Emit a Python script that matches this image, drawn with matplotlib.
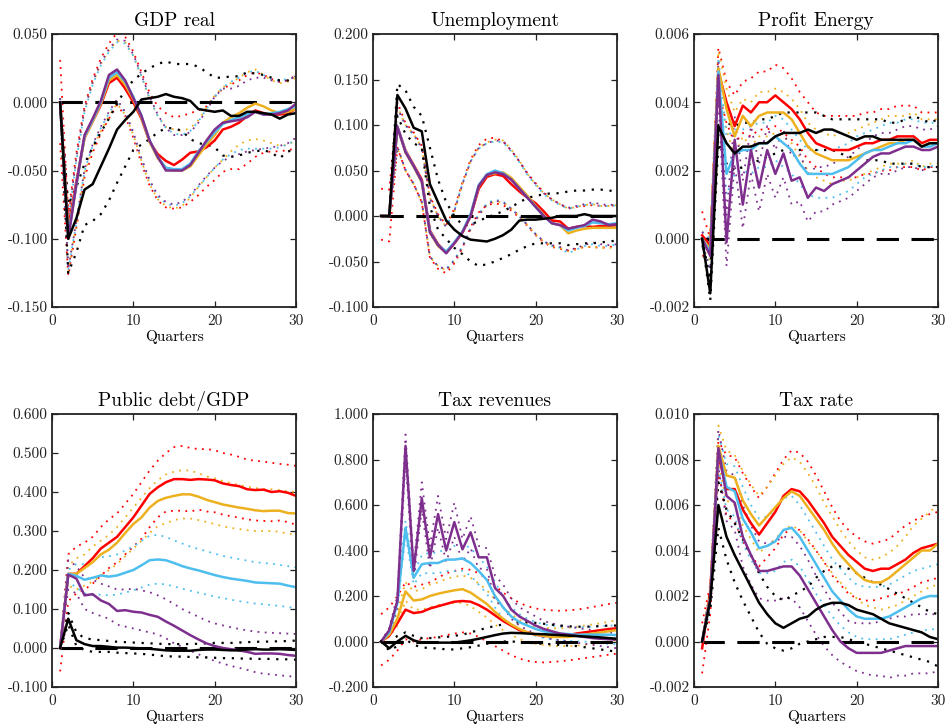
import matplotlib
matplotlib.use("Agg")
import matplotlib.pyplot as plt
from matplotlib.ticker import FormatStrFormatter, MultipleLocator

plt.rcParams.update({
    "font.family": "serif",
    "font.serif": ["cmr10"],
    "mathtext.fontset": "cm",
    "axes.unicode_minus": False,
    "axes.linewidth": 1.3,
})

quarters = list(range(1, 31))

# ---------------- GDP real ----------------
gdp_k = [0, -0.100, -0.085, -0.064, -0.060, -0.047, -0.034, -0.020, -0.013, -0.007, 0.002, 0.003, 0.004, 0.006, 0.004, 0.003, 0.001, -0.005, -0.006, -0.007, -0.006, -0.010, -0.010, -0.007, -0.007, -0.008, -0.009, -0.012, -0.009, -0.008]
gdp_k_hi = [0, -0.075, -0.062, -0.045, -0.033, -0.022, -0.012, -0.001, 0.009, 0.016, 0.021, 0.025, 0.028, 0.030, 0.028, 0.028, 0.028, 0.026, 0.022, 0.018, 0.018, 0.019, 0.019, 0.022, 0.021, 0.020, 0.018, 0.016, 0.016, 0.019]
gdp_k_lo = [0, -0.125, -0.110, -0.090, -0.087, -0.082, -0.072, -0.059, -0.047, -0.035, -0.031, -0.027, -0.022, -0.019, -0.019, -0.021, -0.027, -0.030, -0.031, -0.033, -0.039, -0.040, -0.039, -0.037, -0.036, -0.035, -0.037, -0.041, -0.036, -0.035]
gdp_r = [0, -0.092, -0.058, -0.026, -0.014, -0.002, 0.014, 0.018, 0.010, 0.000, -0.012, -0.029, -0.038, -0.043, -0.046, -0.042, -0.037, -0.036, -0.033, -0.028, -0.020, -0.018, -0.015, -0.010, -0.006, -0.008, -0.009, -0.009, -0.008, -0.005]
gdp_r_hi = [0.031, -0.082, -0.037, -0.003, 0.017, 0.032, 0.043, 0.051, 0.048, 0.037, 0.022, 0.007, -0.003, -0.008, -0.011, -0.010, -0.008, -0.006, -0.003, 0.004, 0.010, 0.013, 0.016, 0.020, 0.022, 0.020, 0.017, 0.015, 0.016, 0.020]
gdp_r_lo = [-0.030, -0.127, -0.092, -0.055, -0.037, -0.023, -0.012, -0.002, -0.010, -0.026, -0.045, -0.061, -0.072, -0.077, -0.078, -0.077, -0.073, -0.068, -0.062, -0.057, -0.051, -0.049, -0.049, -0.045, -0.040, -0.037, -0.036, -0.036, -0.035, -0.034]
gdp_o = [0, -0.097, -0.060, -0.026, -0.014, -0.001, 0.016, 0.020, 0.013, 0.002, -0.011, -0.029, -0.041, -0.048, -0.050, -0.050, -0.047, -0.039, -0.031, -0.024, -0.015, -0.011, -0.008, -0.004, -0.001, -0.003, -0.006, -0.008, -0.007, -0.005]
gdp_o_hi = [0.003, -0.086, -0.041, -0.006, 0.014, 0.028, 0.038, 0.045, 0.044, 0.034, 0.019, 0.002, -0.010, -0.018, -0.020, -0.021, -0.019, -0.013, -0.004, 0.005, 0.011, 0.014, 0.018, 0.022, 0.024, 0.020, 0.016, 0.014, 0.015, 0.018]
gdp_o_lo = [-0.002, -0.124, -0.089, -0.052, -0.034, -0.021, -0.010, -0.001, -0.009, -0.024, -0.043, -0.060, -0.071, -0.076, -0.078, -0.076, -0.070, -0.062, -0.055, -0.048, -0.042, -0.036, -0.031, -0.028, -0.027, -0.028, -0.030, -0.032, -0.031, -0.028]
gdp_b = [0, -0.098, -0.060, -0.025, -0.013, 0.000, 0.018, 0.022, 0.015, 0.004, -0.010, -0.028, -0.040, -0.048, -0.049, -0.049, -0.045, -0.036, -0.029, -0.022, -0.016, -0.013, -0.011, -0.009, -0.007, -0.009, -0.008, -0.007, -0.005, -0.003]
gdp_b_hi = [0.003, -0.087, -0.042, -0.007, 0.013, 0.027, 0.037, 0.044, 0.043, 0.034, 0.019, 0.003, -0.010, -0.019, -0.023, -0.024, -0.021, -0.014, -0.005, 0.004, 0.011, 0.015, 0.018, 0.022, 0.023, 0.020, 0.017, 0.016, 0.017, 0.019]
gdp_b_lo = [-0.002, -0.123, -0.088, -0.050, -0.032, -0.019, -0.008, 0.001, -0.008, -0.023, -0.042, -0.058, -0.069, -0.074, -0.076, -0.074, -0.069, -0.062, -0.055, -0.048, -0.042, -0.038, -0.035, -0.034, -0.034, -0.034, -0.034, -0.033, -0.031, -0.027]
gdp_p = [0, -0.100, -0.060, -0.024, -0.012, 0.001, 0.020, 0.024, 0.016, 0.003, -0.010, -0.028, -0.040, -0.050, -0.050, -0.050, -0.046, -0.037, -0.028, -0.020, -0.015, -0.014, -0.013, -0.011, -0.007, -0.009, -0.009, -0.008, -0.006, -0.001]
gdp_p_hi = [0.003, -0.086, -0.040, -0.005, 0.015, 0.029, 0.039, 0.046, 0.045, 0.035, 0.020, 0.004, -0.009, -0.019, -0.024, -0.024, -0.022, -0.015, -0.006, 0.004, 0.010, 0.010, 0.012, 0.016, 0.018, 0.018, 0.016, 0.015, 0.016, 0.019]
gdp_p_lo = [-0.002, -0.122, -0.087, -0.049, -0.031, -0.018, -0.007, 0.002, -0.007, -0.022, -0.041, -0.057, -0.068, -0.073, -0.075, -0.073, -0.068, -0.061, -0.054, -0.048, -0.043, -0.040, -0.038, -0.036, -0.035, -0.034, -0.033, -0.032, -0.030, -0.026]

# ---------------- Unemployment ----------------
un_k = [0, 0, 0.133, 0.118, 0.097, 0.093, 0.035, 0.015, -0.005, -0.015, -0.022, -0.026, -0.027, -0.028, -0.025, -0.021, -0.015, -0.005, -0.004, -0.004, -0.003, -0.002, 0.000, 0.000, 0.000, 0.002, 0.000, 0.000, 0.000, 0.000]
un_k_hi = [0, 0, 0.145, 0.138, 0.120, 0.110, 0.075, 0.040, 0.015, 0.000, -0.010, -0.010, -0.005, -0.002, 0.002, 0.005, 0.010, 0.015, 0.020, 0.022, 0.024, 0.025, 0.025, 0.027, 0.028, 0.028, 0.029, 0.029, 0.028, 0.027]
un_k_lo = [0, 0, 0.110, 0.090, 0.080, 0.075, 0.010, -0.015, -0.025, -0.035, -0.042, -0.050, -0.055, -0.053, -0.050, -0.046, -0.042, -0.037, -0.033, -0.030, -0.030, -0.030, -0.030, -0.032, -0.031, -0.030, -0.030, -0.029, -0.028, -0.027]
un_r = [0, 0, 0.098, 0.072, 0.056, 0.040, -0.016, -0.031, -0.040, -0.030, -0.018, 0.000, 0.030, 0.043, 0.046, 0.044, 0.035, 0.027, 0.020, 0.014, 0.005, -0.005, -0.006, -0.014, -0.012, -0.011, -0.012, -0.011, -0.011, -0.010]
un_r_hi = [0.030, 0.029, 0.125, 0.102, 0.092, 0.077, 0.022, 0.002, -0.010, 0.008, 0.037, 0.062, 0.078, 0.085, 0.086, 0.082, 0.072, 0.060, 0.047, 0.036, 0.026, 0.018, 0.013, 0.008, 0.010, 0.011, 0.012, 0.011, 0.011, 0.012]
un_r_lo = [-0.026, -0.028, 0.075, 0.050, 0.035, 0.015, -0.046, -0.058, -0.063, -0.052, -0.035, -0.012, 0.004, 0.012, 0.014, 0.012, 0.006, -0.002, -0.011, -0.021, -0.029, -0.034, -0.036, -0.038, -0.036, -0.034, -0.034, -0.035, -0.034, -0.033]
un_o = [0, 0, 0.097, 0.070, 0.054, 0.037, -0.018, -0.033, -0.040, -0.030, -0.018, 0.001, 0.033, 0.045, 0.047, 0.048, 0.042, 0.032, 0.022, 0.011, 0.001, -0.008, -0.010, -0.019, -0.016, -0.014, -0.013, -0.013, -0.013, -0.013]
un_o_hi = [0, 0, 0.120, 0.100, 0.090, 0.075, 0.020, 0.000, -0.012, 0.005, 0.035, 0.060, 0.075, 0.081, 0.084, 0.083, 0.073, 0.061, 0.046, 0.035, 0.025, 0.018, 0.013, 0.008, 0.010, 0.012, 0.013, 0.011, 0.011, 0.012]
un_o_lo = [0, 0, 0.075, 0.050, 0.035, 0.015, -0.045, -0.055, -0.060, -0.050, -0.035, -0.015, 0.000, 0.012, 0.016, 0.015, 0.008, 0.000, -0.010, -0.020, -0.028, -0.033, -0.035, -0.039, -0.037, -0.034, -0.034, -0.035, -0.035, -0.035]
un_b = [0, 0, 0.098, 0.071, 0.055, 0.038, -0.017, -0.032, -0.039, -0.029, -0.017, 0.002, 0.034, 0.046, 0.050, 0.047, 0.040, 0.030, 0.020, 0.010, 0.000, -0.008, -0.010, -0.016, -0.013, -0.011, -0.007, -0.008, -0.009, -0.008]
un_b_hi = [0, 0, 0.119, 0.099, 0.089, 0.074, 0.019, -0.001, -0.011, 0.006, 0.036, 0.060, 0.074, 0.080, 0.082, 0.081, 0.071, 0.059, 0.045, 0.034, 0.024, 0.017, 0.012, 0.008, 0.010, 0.012, 0.013, 0.011, 0.011, 0.012]
un_b_lo = [0, 0, 0.076, 0.051, 0.036, 0.016, -0.044, -0.056, -0.058, -0.048, -0.033, -0.013, 0.002, 0.014, 0.018, 0.016, 0.008, -0.001, -0.010, -0.020, -0.028, -0.033, -0.035, -0.041, -0.037, -0.033, -0.031, -0.033, -0.033, -0.031]
un_p = [0, 0, 0.098, 0.070, 0.055, 0.038, -0.018, -0.032, -0.041, -0.030, -0.018, 0.000, 0.033, 0.045, 0.048, 0.046, 0.040, 0.030, 0.020, 0.010, 0.000, -0.008, -0.010, -0.014, -0.012, -0.010, -0.004, -0.006, -0.010, -0.009]
un_p_hi = [0, 0, 0.119, 0.100, 0.090, 0.075, 0.020, 0.000, -0.012, 0.005, 0.035, 0.060, 0.075, 0.080, 0.083, 0.082, 0.072, 0.060, 0.046, 0.035, 0.025, 0.018, 0.013, 0.009, 0.011, 0.013, 0.015, 0.013, 0.012, 0.013]
un_p_lo = [0, 0, 0.076, 0.050, 0.035, 0.015, -0.045, -0.055, -0.059, -0.049, -0.034, -0.014, 0.001, 0.013, 0.017, 0.015, 0.008, 0.000, -0.010, -0.020, -0.028, -0.032, -0.034, -0.038, -0.035, -0.032, -0.029, -0.031, -0.032, -0.031]

# ---------------- Profit Energy ----------------
pe_k = [0, -0.0016, 0.0033, 0.0028, 0.0025, 0.0027, 0.0027, 0.0028, 0.0028, 0.0030, 0.0031, 0.0031, 0.0031, 0.0032, 0.0031, 0.0032, 0.0032, 0.0031, 0.0030, 0.0029, 0.0030, 0.0030, 0.0029, 0.0029, 0.0029, 0.0029, 0.0029, 0.0027, 0.0028, 0.0028]
pe_k_hi = [0, -0.0012, 0.0035, 0.0034, 0.0033, 0.0034, 0.0034, 0.0035, 0.0035, 0.0036, 0.0037, 0.0037, 0.0037, 0.0037, 0.0037, 0.0036, 0.0035, 0.0035, 0.0035, 0.0035, 0.0035, 0.0035, 0.0035, 0.0034, 0.0034, 0.0035, 0.0036, 0.0035, 0.0034, 0.0035]
pe_k_lo = [0, -0.0018, 0.0028, 0.0022, 0.0020, 0.0021, 0.0022, 0.0023, 0.0024, 0.0025, 0.0026, 0.0026, 0.0026, 0.0027, 0.0026, 0.0026, 0.0026, 0.0025, 0.0024, 0.0024, 0.0023, 0.0023, 0.0023, 0.0022, 0.0022, 0.0022, 0.0022, 0.0021, 0.0021, 0.0021]
pe_r = [0.0001, -0.0002, 0.0049, 0.0040, 0.0033, 0.0039, 0.0037, 0.0040, 0.0040, 0.0042, 0.0040, 0.0038, 0.0035, 0.0031, 0.0028, 0.0027, 0.0026, 0.0026, 0.0026, 0.0027, 0.0028, 0.0028, 0.0029, 0.0029, 0.0030, 0.0030, 0.0030, 0.0028, 0.0029, 0.0029]
pe_r_hi = [0.0008, 0.0000, 0.0056, 0.0046, 0.0042, 0.0046, 0.0047, 0.0049, 0.0049, 0.0051, 0.0050, 0.0047, 0.0043, 0.0040, 0.0037, 0.0036, 0.0036, 0.0036, 0.0036, 0.0036, 0.0037, 0.0037, 0.0038, 0.0038, 0.0039, 0.0039, 0.0039, 0.0037, 0.0037, 0.0037]
pe_r_lo = [-0.0005, -0.0005, 0.0043, 0.0034, 0.0028, 0.0031, 0.0030, 0.0032, 0.0032, 0.0033, 0.0031, 0.0029, 0.0027, 0.0023, 0.0021, 0.0019, 0.0018, 0.0018, 0.0018, 0.0018, 0.0019, 0.0019, 0.0020, 0.0020, 0.0021, 0.0021, 0.0021, 0.0020, 0.0021, 0.0021]
pe_o = [0, -0.0003, 0.0050, 0.0038, 0.0030, 0.0036, 0.0033, 0.0036, 0.0037, 0.0037, 0.0037, 0.0035, 0.0031, 0.0027, 0.0025, 0.0024, 0.0023, 0.0023, 0.0023, 0.0024, 0.0025, 0.0026, 0.0027, 0.0028, 0.0028, 0.0029, 0.0029, 0.0027, 0.0028, 0.0028]
pe_o_hi = [0.0002, 0.0001, 0.0055, 0.0044, 0.0037, 0.0041, 0.0040, 0.0043, 0.0043, 0.0044, 0.0043, 0.0041, 0.0038, 0.0034, 0.0032, 0.0031, 0.0030, 0.0031, 0.0031, 0.0032, 0.0033, 0.0034, 0.0035, 0.0036, 0.0036, 0.0036, 0.0037, 0.0035, 0.0035, 0.0035]
pe_o_lo = [-0.0002, -0.0007, 0.0045, 0.0032, 0.0024, 0.0030, 0.0027, 0.0030, 0.0030, 0.0031, 0.0030, 0.0028, 0.0024, 0.0020, 0.0018, 0.0017, 0.0016, 0.0017, 0.0017, 0.0018, 0.0019, 0.0020, 0.0021, 0.0022, 0.0022, 0.0022, 0.0023, 0.0021, 0.0022, 0.0022]
pe_b = [0, -0.0004, 0.0049, 0.0019, 0.0025, 0.0026, 0.0026, 0.0028, 0.0028, 0.0030, 0.0028, 0.0026, 0.0022, 0.0019, 0.0019, 0.0019, 0.0019, 0.0020, 0.0021, 0.0023, 0.0025, 0.0026, 0.0026, 0.0027, 0.0028, 0.0028, 0.0029, 0.0027, 0.0027, 0.0028]
pe_b_hi = [0.0002, 0.0000, 0.0053, 0.0030, 0.0032, 0.0032, 0.0033, 0.0034, 0.0034, 0.0036, 0.0035, 0.0032, 0.0029, 0.0026, 0.0026, 0.0026, 0.0026, 0.0027, 0.0028, 0.0030, 0.0031, 0.0032, 0.0033, 0.0034, 0.0034, 0.0035, 0.0035, 0.0034, 0.0034, 0.0034]
pe_b_lo = [-0.0002, -0.0008, 0.0044, 0.0013, 0.0019, 0.0020, 0.0019, 0.0021, 0.0021, 0.0023, 0.0021, 0.0019, 0.0016, 0.0013, 0.0012, 0.0012, 0.0012, 0.0013, 0.0014, 0.0016, 0.0018, 0.0019, 0.0020, 0.0021, 0.0021, 0.0022, 0.0022, 0.0021, 0.0021, 0.0022]
pe_p = [0, -0.0005, 0.0048, -0.0001, 0.0029, 0.0010, 0.0026, 0.0015, 0.0026, 0.0019, 0.0025, 0.0017, 0.0018, 0.0012, 0.0015, 0.0014, 0.0016, 0.0017, 0.0018, 0.0020, 0.0022, 0.0024, 0.0025, 0.0025, 0.0026, 0.0027, 0.0027, 0.0026, 0.0026, 0.0027]
pe_p_hi = [0.0002, -0.0001, 0.0052, 0.0007, 0.0036, 0.0017, 0.0033, 0.0022, 0.0033, 0.0026, 0.0032, 0.0024, 0.0025, 0.0019, 0.0021, 0.0021, 0.0022, 0.0023, 0.0024, 0.0026, 0.0028, 0.0030, 0.0031, 0.0031, 0.0032, 0.0033, 0.0033, 0.0032, 0.0032, 0.0033]
pe_p_lo = [-0.0002, -0.0009, 0.0042, -0.0008, 0.0022, 0.0003, 0.0019, 0.0008, 0.0019, 0.0012, 0.0018, 0.0010, 0.0011, 0.0005, 0.0008, 0.0008, 0.0010, 0.0011, 0.0012, 0.0014, 0.0016, 0.0018, 0.0019, 0.0019, 0.0020, 0.0021, 0.0021, 0.0020, 0.0021, 0.0021]

# ---------------- Public debt/GDP ----------------
pd_k = [0, 0.075, 0.020, 0.010, 0.005, 0.005, 0.003, 0.001, 0.001, 0.000, -0.001, -0.002, -0.004, -0.006, -0.007, -0.007, -0.007, -0.005, -0.004, -0.004, -0.005, -0.006, -0.006, -0.004, -0.003, -0.004, -0.004, -0.003, -0.004, -0.005]
pd_k_hi = [0, 0.090, 0.040, 0.025, 0.022, 0.020, 0.018, 0.016, 0.015, 0.014, 0.013, 0.012, 0.011, 0.010, 0.010, 0.010, 0.010, 0.011, 0.012, 0.013, 0.013, 0.013, 0.014, 0.015, 0.016, 0.016, 0.017, 0.017, 0.018, 0.019]
pd_k_lo = [0, 0.060, 0.005, -0.005, -0.010, -0.010, -0.010, -0.012, -0.013, -0.014, -0.015, -0.017, -0.019, -0.021, -0.022, -0.022, -0.023, -0.024, -0.024, -0.025, -0.026, -0.026, -0.027, -0.027, -0.028, -0.028, -0.028, -0.029, -0.029, -0.030]
pd_r = [0, 0.190, 0.190, 0.210, 0.230, 0.255, 0.270, 0.285, 0.310, 0.335, 0.365, 0.395, 0.412, 0.425, 0.433, 0.433, 0.431, 0.433, 0.432, 0.430, 0.422, 0.418, 0.415, 0.407, 0.405, 0.406, 0.400, 0.402, 0.398, 0.390]
pd_r_hi = [0, 0.240, 0.260, 0.270, 0.285, 0.310, 0.330, 0.345, 0.370, 0.395, 0.425, 0.455, 0.480, 0.500, 0.515, 0.518, 0.513, 0.510, 0.510, 0.507, 0.500, 0.496, 0.490, 0.483, 0.480, 0.478, 0.475, 0.472, 0.470, 0.467]
pd_r_lo = [-0.060, 0.120, 0.140, 0.150, 0.165, 0.185, 0.205, 0.220, 0.240, 0.260, 0.280, 0.310, 0.335, 0.350, 0.352, 0.352, 0.350, 0.355, 0.350, 0.348, 0.342, 0.338, 0.334, 0.330, 0.327, 0.326, 0.325, 0.327, 0.323, 0.316]
pd_o = [0, 0.190, 0.190, 0.205, 0.220, 0.240, 0.252, 0.270, 0.295, 0.318, 0.335, 0.360, 0.377, 0.385, 0.390, 0.394, 0.394, 0.388, 0.380, 0.374, 0.368, 0.364, 0.360, 0.357, 0.353, 0.351, 0.352, 0.352, 0.346, 0.345]
pd_o_hi = [0, 0.210, 0.230, 0.240, 0.260, 0.275, 0.290, 0.310, 0.335, 0.360, 0.385, 0.410, 0.430, 0.445, 0.452, 0.456, 0.455, 0.448, 0.440, 0.435, 0.428, 0.423, 0.418, 0.414, 0.410, 0.408, 0.407, 0.405, 0.402, 0.400]
pd_o_lo = [0, 0.160, 0.150, 0.160, 0.170, 0.185, 0.200, 0.215, 0.235, 0.255, 0.275, 0.295, 0.312, 0.320, 0.328, 0.332, 0.332, 0.328, 0.323, 0.318, 0.312, 0.308, 0.305, 0.302, 0.300, 0.300, 0.300, 0.298, 0.293, 0.290]
pd_b = [0, 0.190, 0.185, 0.175, 0.180, 0.186, 0.183, 0.186, 0.193, 0.200, 0.212, 0.225, 0.227, 0.225, 0.218, 0.210, 0.204, 0.199, 0.193, 0.187, 0.182, 0.178, 0.175, 0.172, 0.168, 0.167, 0.166, 0.165, 0.160, 0.156]
pd_b_hi = [0, 0.200, 0.215, 0.215, 0.225, 0.233, 0.235, 0.240, 0.250, 0.260, 0.275, 0.288, 0.290, 0.285, 0.276, 0.268, 0.260, 0.254, 0.248, 0.242, 0.236, 0.232, 0.228, 0.224, 0.220, 0.218, 0.216, 0.213, 0.210, 0.207]
pd_b_lo = [0, 0.170, 0.155, 0.140, 0.136, 0.137, 0.135, 0.137, 0.142, 0.148, 0.155, 0.163, 0.165, 0.163, 0.158, 0.152, 0.147, 0.142, 0.137, 0.132, 0.128, 0.124, 0.120, 0.117, 0.114, 0.112, 0.110, 0.108, 0.105, 0.102]
pd_p = [0, 0.188, 0.178, 0.135, 0.138, 0.122, 0.113, 0.095, 0.097, 0.093, 0.091, 0.085, 0.080, 0.068, 0.057, 0.045, 0.033, 0.022, 0.012, 0.005, 0.000, -0.003, -0.006, -0.010, -0.015, -0.014, -0.014, -0.015, -0.018, -0.020]
pd_p_hi = [0, 0.225, 0.210, 0.180, 0.175, 0.165, 0.158, 0.150, 0.150, 0.152, 0.148, 0.143, 0.135, 0.125, 0.113, 0.100, 0.090, 0.080, 0.070, 0.063, 0.058, 0.053, 0.049, 0.045, 0.042, 0.040, 0.039, 0.038, 0.037, 0.036]
pd_p_lo = [0, 0.150, 0.140, 0.100, 0.090, 0.082, 0.075, 0.060, 0.055, 0.050, 0.045, 0.040, 0.035, 0.025, 0.012, 0.003, -0.007, -0.016, -0.025, -0.033, -0.040, -0.046, -0.051, -0.056, -0.062, -0.066, -0.068, -0.070, -0.072, -0.074]

# ---------------- Tax revenues ----------------
tr_k = [0, -0.030, 0.000, 0.025, 0.005, -0.005, -0.005, -0.005, -0.005, -0.005, 0.000, 0.005, 0.012, 0.020, 0.028, 0.035, 0.038, 0.037, 0.035, 0.033, 0.032, 0.030, 0.028, 0.026, 0.024, 0.022, 0.020, 0.018, 0.015, 0.012]
tr_k_hi = [0, -0.010, 0.025, 0.040, 0.025, 0.015, 0.015, 0.018, 0.020, 0.025, 0.030, 0.040, 0.050, 0.060, 0.068, 0.075, 0.082, 0.085, 0.085, 0.082, 0.078, 0.074, 0.070, 0.067, 0.065, 0.065, 0.066, 0.068, 0.070, 0.070]
tr_k_lo = [0, -0.040, -0.020, 0.010, -0.015, -0.025, -0.030, -0.030, -0.035, -0.035, -0.030, -0.025, -0.018, -0.010, -0.005, 0.000, 0.000, -0.002, -0.005, -0.008, -0.010, -0.012, -0.015, -0.018, -0.020, -0.025, -0.030, -0.035, -0.040, -0.045]
tr_r = [0, 0.025, 0.080, 0.140, 0.125, 0.130, 0.145, 0.155, 0.165, 0.175, 0.178, 0.175, 0.160, 0.140, 0.115, 0.090, 0.070, 0.050, 0.040, 0.030, 0.025, 0.023, 0.025, 0.028, 0.035, 0.040, 0.045, 0.050, 0.055, 0.058]
tr_r_hi = [0.120, 0.150, 0.200, 0.260, 0.240, 0.250, 0.260, 0.280, 0.300, 0.310, 0.320, 0.315, 0.300, 0.275, 0.245, 0.215, 0.190, 0.170, 0.155, 0.145, 0.140, 0.137, 0.135, 0.137, 0.140, 0.145, 0.152, 0.158, 0.165, 0.170]
tr_r_lo = [-0.105, -0.080, -0.040, 0.010, 0.000, 0.010, 0.015, 0.020, 0.028, 0.035, 0.040, 0.035, 0.020, 0.000, -0.020, -0.040, -0.060, -0.075, -0.085, -0.090, -0.092, -0.090, -0.087, -0.083, -0.078, -0.073, -0.068, -0.063, -0.058, -0.053]
tr_o = [0, 0.030, 0.100, 0.220, 0.180, 0.185, 0.200, 0.210, 0.218, 0.225, 0.230, 0.215, 0.190, 0.165, 0.130, 0.100, 0.075, 0.055, 0.040, 0.030, 0.025, 0.020, 0.020, 0.020, 0.025, 0.030, 0.035, 0.040, 0.045, 0.050]
tr_o_hi = [0, 0.040, 0.130, 0.260, 0.220, 0.230, 0.250, 0.260, 0.275, 0.285, 0.290, 0.280, 0.255, 0.225, 0.185, 0.150, 0.120, 0.095, 0.075, 0.065, 0.060, 0.058, 0.058, 0.060, 0.065, 0.070, 0.075, 0.080, 0.087, 0.093]
tr_o_lo = [0, 0.020, 0.070, 0.180, 0.140, 0.140, 0.150, 0.160, 0.165, 0.170, 0.170, 0.155, 0.130, 0.105, 0.075, 0.050, 0.030, 0.010, 0.000, -0.010, -0.015, -0.020, -0.020, -0.020, -0.018, -0.015, -0.010, -0.005, 0.000, 0.005]
tr_b = [0, 0.040, 0.170, 0.500, 0.280, 0.340, 0.345, 0.345, 0.360, 0.360, 0.365, 0.345, 0.310, 0.270, 0.200, 0.150, 0.110, 0.085, 0.070, 0.055, 0.045, 0.040, 0.035, 0.033, 0.030, 0.030, 0.030, 0.030, 0.030, 0.028]
tr_b_hi = [0, 0.050, 0.190, 0.530, 0.300, 0.380, 0.390, 0.390, 0.410, 0.420, 0.430, 0.410, 0.370, 0.330, 0.260, 0.200, 0.150, 0.120, 0.100, 0.085, 0.075, 0.070, 0.065, 0.065, 0.063, 0.063, 0.065, 0.067, 0.070, 0.070]
tr_b_lo = [0, 0.030, 0.150, 0.470, 0.250, 0.300, 0.300, 0.300, 0.310, 0.310, 0.310, 0.290, 0.250, 0.210, 0.150, 0.100, 0.070, 0.050, 0.040, 0.025, 0.015, 0.010, 0.005, 0.003, 0.000, 0.000, -0.005, -0.008, -0.010, -0.012]
tr_p = [0, 0.050, 0.180, 0.860, 0.310, 0.630, 0.370, 0.560, 0.400, 0.525, 0.405, 0.480, 0.370, 0.370, 0.235, 0.200, 0.140, 0.110, 0.090, 0.070, 0.055, 0.045, 0.035, 0.030, 0.025, 0.020, 0.015, 0.012, 0.010, 0.008]
tr_p_hi = [0, 0.060, 0.200, 0.910, 0.330, 0.700, 0.420, 0.640, 0.450, 0.610, 0.450, 0.550, 0.420, 0.410, 0.290, 0.250, 0.190, 0.150, 0.130, 0.110, 0.090, 0.080, 0.070, 0.065, 0.060, 0.055, 0.050, 0.045, 0.040, 0.035]
tr_p_lo = [0, 0.040, 0.150, 0.800, 0.270, 0.580, 0.320, 0.500, 0.350, 0.460, 0.350, 0.410, 0.320, 0.320, 0.180, 0.150, 0.100, 0.070, 0.050, 0.035, 0.020, 0.010, 0.005, 0.000, -0.005, -0.010, -0.015, -0.020, -0.025, -0.030]

# ---------------- Tax rate ----------------
tx_k = [0, 0.0018, 0.0060, 0.0046, 0.0038, 0.0031, 0.0024, 0.0017, 0.0012, 0.0008, 0.0006, 0.0008, 0.0010, 0.0011, 0.0014, 0.0016, 0.0017, 0.0017, 0.0016, 0.0014, 0.0013, 0.0012, 0.0010, 0.0008, 0.0007, 0.0006, 0.0005, 0.0004, 0.0002, 0.0001]
tx_k_hi = [0, 0.0022, 0.0070, 0.0058, 0.0052, 0.0045, 0.0038, 0.0030, 0.0024, 0.0020, 0.0018, 0.0020, 0.0022, 0.0024, 0.0028, 0.0031, 0.0033, 0.0033, 0.0032, 0.0030, 0.0028, 0.0026, 0.0025, 0.0023, 0.0021, 0.0019, 0.0017, 0.0015, 0.0013, 0.0012]
tx_k_lo = [0, 0.0014, 0.0050, 0.0036, 0.0026, 0.0018, 0.0011, 0.0004, -0.0001, -0.0003, -0.0004, -0.0003, -0.0001, 0.0000, 0.0001, 0.0002, 0.0002, 0.0002, 0.0001, 0.0000, -0.0001, -0.0002, -0.0003, -0.0004, -0.0005, -0.0006, -0.0007, -0.0008, -0.0009, -0.0011]
tx_r = [-0.0003, 0.0022, 0.0082, 0.0067, 0.0067, 0.0058, 0.0052, 0.0047, 0.0052, 0.0057, 0.0064, 0.0067, 0.0066, 0.0062, 0.0057, 0.0052, 0.0046, 0.0042, 0.0038, 0.0035, 0.0032, 0.0031, 0.0032, 0.0032, 0.0034, 0.0036, 0.0039, 0.0041, 0.0042, 0.0043]
tx_r_hi = [0.0008, 0.0025, 0.0088, 0.0082, 0.0081, 0.0074, 0.0068, 0.0063, 0.0068, 0.0074, 0.0080, 0.0084, 0.0083, 0.0079, 0.0073, 0.0066, 0.0059, 0.0053, 0.0049, 0.0046, 0.0044, 0.0043, 0.0044, 0.0045, 0.0048, 0.0051, 0.0053, 0.0055, 0.0056, 0.0057]
tx_r_lo = [-0.0014, 0.0012, 0.0075, 0.0055, 0.0053, 0.0044, 0.0038, 0.0033, 0.0037, 0.0041, 0.0047, 0.0050, 0.0049, 0.0045, 0.0040, 0.0035, 0.0029, 0.0025, 0.0021, 0.0019, 0.0018, 0.0018, 0.0019, 0.0020, 0.0021, 0.0022, 0.0024, 0.0026, 0.0027, 0.0028]
tx_o = [0, 0.0020, 0.0086, 0.0073, 0.0072, 0.0062, 0.0056, 0.0051, 0.0055, 0.0059, 0.0063, 0.0066, 0.0064, 0.0059, 0.0054, 0.0049, 0.0043, 0.0038, 0.0034, 0.0030, 0.0027, 0.0026, 0.0026, 0.0028, 0.0031, 0.0034, 0.0037, 0.0040, 0.0040, 0.0043]
tx_o_hi = [0, 0.0024, 0.0095, 0.0084, 0.0082, 0.0075, 0.0069, 0.0064, 0.0068, 0.0073, 0.0078, 0.0081, 0.0079, 0.0074, 0.0068, 0.0061, 0.0055, 0.0049, 0.0044, 0.0040, 0.0037, 0.0036, 0.0037, 0.0039, 0.0042, 0.0046, 0.0051, 0.0054, 0.0057, 0.0060]
tx_o_lo = [0, 0.0016, 0.0078, 0.0062, 0.0060, 0.0051, 0.0045, 0.0039, 0.0042, 0.0045, 0.0049, 0.0051, 0.0049, 0.0044, 0.0040, 0.0035, 0.0030, 0.0026, 0.0022, 0.0019, 0.0016, 0.0015, 0.0014, 0.0015, 0.0016, 0.0018, 0.0020, 0.0022, 0.0024, 0.0025]
tx_b = [0, 0.0019, 0.0084, 0.0068, 0.0066, 0.0054, 0.0048, 0.0041, 0.0042, 0.0044, 0.0049, 0.0050, 0.0046, 0.0040, 0.0034, 0.0028, 0.0022, 0.0018, 0.0014, 0.0011, 0.0010, 0.0010, 0.0010, 0.0011, 0.0013, 0.0015, 0.0017, 0.0019, 0.0020, 0.0020]
tx_b_hi = [0, 0.0023, 0.0091, 0.0078, 0.0077, 0.0068, 0.0060, 0.0054, 0.0055, 0.0058, 0.0063, 0.0064, 0.0060, 0.0054, 0.0048, 0.0042, 0.0036, 0.0032, 0.0028, 0.0025, 0.0024, 0.0024, 0.0024, 0.0025, 0.0027, 0.0029, 0.0031, 0.0032, 0.0033, 0.0034]
tx_b_lo = [0, 0.0015, 0.0076, 0.0058, 0.0055, 0.0043, 0.0036, 0.0030, 0.0030, 0.0031, 0.0035, 0.0036, 0.0033, 0.0027, 0.0021, 0.0016, 0.0011, 0.0007, 0.0004, 0.0002, 0.0001, 0.0001, 0.0001, 0.0001, 0.0002, 0.0003, 0.0004, 0.0005, 0.0005, 0.0006]
tx_p = [0, 0.0019, 0.0085, 0.0064, 0.0061, 0.0046, 0.0038, 0.0031, 0.0031, 0.0032, 0.0033, 0.0033, 0.0029, 0.0023, 0.0017, 0.0011, 0.0005, 0.0000, -0.0003, -0.0005, -0.0005, -0.0005, -0.0005, -0.0004, -0.0003, -0.0002, -0.0002, -0.0002, -0.0002, -0.0002]
tx_p_hi = [0, 0.0023, 0.0093, 0.0075, 0.0073, 0.0060, 0.0051, 0.0044, 0.0043, 0.0044, 0.0046, 0.0046, 0.0042, 0.0036, 0.0029, 0.0023, 0.0017, 0.0013, 0.0009, 0.0008, 0.0008, 0.0008, 0.0009, 0.0010, 0.0011, 0.0011, 0.0012, 0.0012, 0.0012, 0.0012]
tx_p_lo = [0, 0.0015, 0.0077, 0.0053, 0.0049, 0.0033, 0.0025, 0.0019, 0.0018, 0.0018, 0.0019, 0.0019, 0.0015, 0.0009, 0.0003, -0.0002, -0.0006, -0.0009, -0.0011, -0.0013, -0.0014, -0.0015, -0.0015, -0.0016, -0.0015, -0.0015, -0.0014, -0.0014, -0.0014, -0.0013]

titles = ["GDP real", "Unemployment", "Profit Energy", "Public debt/GDP", "Tax revenues", "Tax rate"]
y_limits = [(-0.15, 0.05), (-0.10, 0.20), (-0.002, 0.006), (-0.10, 0.60), (-0.20, 1.00), (-0.002, 0.010)]
y_steps = [0.05, 0.05, 0.002, 0.1, 0.2, 0.002]

RED, ORANGE, BLUE, PURPLE, BLACK = "#ff0000", "#edb120", "#4dbeee", "#7e2f8e", "#000000"
series_colors = [RED, ORANGE, BLUE, PURPLE, BLACK]

panels = [
    [(gdp_r, gdp_r_lo, gdp_r_hi), (gdp_o, gdp_o_lo, gdp_o_hi), (gdp_b, gdp_b_lo, gdp_b_hi), (gdp_p, gdp_p_lo, gdp_p_hi), (gdp_k, gdp_k_lo, gdp_k_hi)],
    [(un_r, un_r_lo, un_r_hi), (un_o, un_o_lo, un_o_hi), (un_b, un_b_lo, un_b_hi), (un_p, un_p_lo, un_p_hi), (un_k, un_k_lo, un_k_hi)],
    [(pe_r, pe_r_lo, pe_r_hi), (pe_o, pe_o_lo, pe_o_hi), (pe_b, pe_b_lo, pe_b_hi), (pe_p, pe_p_lo, pe_p_hi), (pe_k, pe_k_lo, pe_k_hi)],
    [(pd_r, pd_r_lo, pd_r_hi), (pd_o, pd_o_lo, pd_o_hi), (pd_b, pd_b_lo, pd_b_hi), (pd_p, pd_p_lo, pd_p_hi), (pd_k, pd_k_lo, pd_k_hi)],
    [(tr_r, tr_r_lo, tr_r_hi), (tr_o, tr_o_lo, tr_o_hi), (tr_b, tr_b_lo, tr_b_hi), (tr_p, tr_p_lo, tr_p_hi), (tr_k, tr_k_lo, tr_k_hi)],
    [(tx_r, tx_r_lo, tx_r_hi), (tx_o, tx_o_lo, tx_o_hi), (tx_b, tx_b_lo, tx_b_hi), (tx_p, tx_p_lo, tx_p_hi), (tx_k, tx_k_lo, tx_k_hi)],
]

W, H = 946, 727
fig = plt.figure(figsize=(W / 100, H / 100), dpi=100)

lefts = [52, 373, 694]
tops = [34, 414]
ax_w, ax_h = 244, 273

for i, (title, lims, step, data) in enumerate(zip(titles, y_limits, y_steps, panels)):
    row, col = divmod(i, 3)
    x0 = lefts[col] / W
    y0 = 1 - (tops[row] + ax_h) / H
    ax = fig.add_axes([x0, y0, ax_w / W, ax_h / H])

    # confidence bands (dotted)
    for color, (med, lo, hi) in zip(series_colors, data):
        dot_lw = 1.6 if color == BLACK else 1.3
        ax.plot(quarters, lo, color=color, lw=dot_lw, linestyle=(0, (1, 3)))
        ax.plot(quarters, hi, color=color, lw=dot_lw, linestyle=(0, (1, 3)))

    ax.plot([1, 30], [0, 0], color="black", lw=2.2, linestyle=(0, (7.3, 4.1)))

    # median responses
    for color, (med, lo, hi) in zip(series_colors, data):
        ax.plot(quarters, med, color=color, lw=1.8)

    ax.set_xlim(0, 30)
    ax.set_ylim(*lims)
    ax.xaxis.set_major_locator(MultipleLocator(10))
    ax.yaxis.set_major_locator(MultipleLocator(step))
    ax.yaxis.set_major_formatter(FormatStrFormatter("%.3f"))
    ax.tick_params(direction="in", top=True, right=True, length=4, width=0.9,
                   labelsize=11, colors="#222222")
    ax.tick_params(axis="x", pad=5)
    ax.tick_params(axis="y", pad=3)
    for sp in ax.spines.values():
        sp.set_color("#222222")
    ax.set_title(title, fontsize=14, pad=6)
    ax.set_xlabel("Quarters", fontsize=11, labelpad=2)

fig.savefig("out.png", dpi=100)
